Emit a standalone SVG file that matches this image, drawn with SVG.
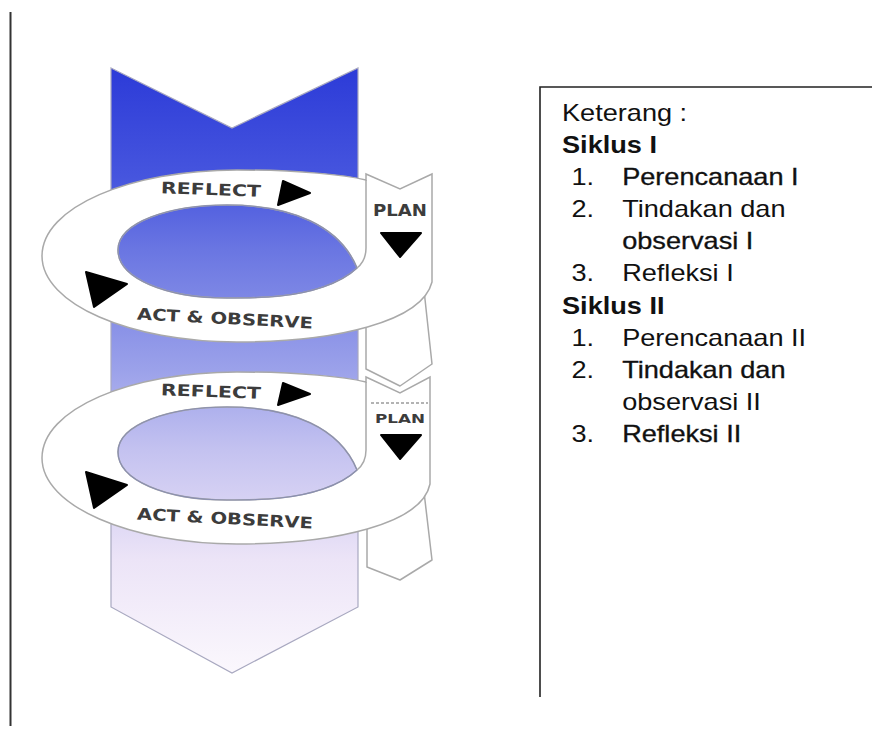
<svg xmlns="http://www.w3.org/2000/svg" width="891" height="731" viewBox="0 0 891 731">
  <defs>
    <linearGradient id="colGrad" gradientUnits="userSpaceOnUse" x1="0" y1="68" x2="0" y2="675">
      <stop offset="0" stop-color="#2c3bd8"/>
      <stop offset="0.18" stop-color="#4655de"/>
      <stop offset="0.30" stop-color="#6a76e2"/>
      <stop offset="0.50" stop-color="#9ca2ea"/>
      <stop offset="0.63" stop-color="#c4c2f0"/>
      <stop offset="0.81" stop-color="#ece4f7"/>
      <stop offset="1" stop-color="#fbf8fd"/>
    </linearGradient>
    <style>
      .band { fill: #ffffff; stroke: #a9a9a9; stroke-width: 1.5; fill-rule: evenodd; }
      .tab { fill: #ffffff; stroke: #a9a9a9; stroke-width: 1.5; stroke-linejoin: round; }
      .edge { fill: none; stroke: #a9a9a9; stroke-width: 1.5; }
      .hole { fill: none; stroke: #8a8fb0; stroke-width: 1.2; }
      .tri { fill: #000000; stroke: #000000; stroke-width: 2; stroke-linejoin: round; }
      .lbl { font-family: "DejaVu Sans", sans-serif; font-weight: bold; fill: #3c3c3c; }
      .note { font-family: "Liberation Sans", Arial, sans-serif; font-size: 23px; fill: #111111; }
      .b { font-weight: bold; }
      .heavy { stroke: #111111; stroke-width: 0.3; }
    </style>
  </defs>

  <rect width="891" height="731" fill="#ffffff"/>

  <!-- page margin rule -->
  <line x1="10.5" y1="12" x2="10.5" y2="726" stroke="#333333" stroke-width="2"/>

  <!-- central downward arrow -->
  <g id="column">
    <polygon points="111,68 232,128 358,68 358,607 232,673 111,607" fill="url(#colGrad)" stroke="#a8a8c0" stroke-width="1.2"/>
  </g>

  <!-- cycle I -->
  <g id="cycle1">
    <!-- revised-plan tab below the ring -->
    <polygon class="tab" points="366,290 424,290 432,364 400,386 366,369"/>
    <!-- ring band with PLAN tab, hole shows the column -->
    <path class="band" d="M 366 174 L 400 189 L 432 174 L 432 282 C 422 322 335 342 237 342 C 130 342 42 304 42 256 C 42 207 130 170 237 170 C 300 170 345 175 366 180 Z
      M 118 250 C 118 222 170 205 227 205 C 292 205 340 226 357 268 C 340 284 310 293 280 296 C 262 298 245 298 227 298 C 165 298 118 278 118 250 Z"/>
    <path class="hole" d="M 357 268 C 340 284 310 293 280 296 C 262 298 245 298 227 298 C 165 298 118 278 118 250 C 118 222 170 205 227 205 C 292 205 340 226 357 268"/>
    <path class="edge" d="M 366 180 L 366 248 C 366 258 362 264 357 268"/>
    <text class="lbl" x="161" y="195" font-size="16" textLength="100" lengthAdjust="spacingAndGlyphs" transform="rotate(2 211 189)">REFLECT</text>
    <text class="lbl" x="137" y="324" font-size="16" textLength="176" lengthAdjust="spacingAndGlyphs" transform="rotate(3 225 318)">ACT &amp; OBSERVE</text>
    <text class="lbl" x="373" y="216" font-size="15" textLength="54" lengthAdjust="spacingAndGlyphs">PLAN</text>
    <polygon class="tri" points="283,181 310,193 278,205"/>
    <polygon class="tri" points="86,272 127,284 94,307"/>
    <polygon class="tri" points="381,233 421,233 400,257"/>
  </g>

  <!-- cycle II -->
  <g id="cycle2" transform="translate(0,202)">
    <polygon class="tab" points="367,290 424,290 432,358 400,378 367,365"/>
    <path class="band" d="M 366 175 L 400 191 L 430 175 L 430 282 C 422 322 335 342 237 342 C 130 342 42 304 42 256 C 42 207 130 170 237 170 C 300 170 345 175 366 180 Z
      M 118 250 C 118 222 170 205 227 205 C 292 205 340 226 357 268 C 340 284 310 293 280 296 C 262 298 245 298 227 298 C 165 298 118 278 118 250 Z"/>
    <path class="hole" d="M 357 268 C 340 284 310 293 280 296 C 262 298 245 298 227 298 C 165 298 118 278 118 250 C 118 222 170 205 227 205 C 292 205 340 226 357 268"/>
    <path class="edge" d="M 366 180 L 366 248 C 366 258 362 264 357 268"/>
    <line x1="371" y1="201" x2="428" y2="201" stroke="#9a9a9a" stroke-width="1.5" stroke-dasharray="3 2"/>
    <text class="lbl" x="375" y="221" font-size="13" textLength="50" lengthAdjust="spacingAndGlyphs">PLAN</text>
    <polygon class="tri" points="283,181 310,192 278,203"/>
    <polygon class="tri" points="86,270 127,283 94,306"/>
    <polygon class="tri" points="381,233 421,233 400,257"/>
    <text class="lbl" x="161" y="195" font-size="16" textLength="100" lengthAdjust="spacingAndGlyphs" transform="rotate(2 211 189)">REFLECT</text>
    <text class="lbl" x="137" y="322" font-size="16" textLength="176" lengthAdjust="spacingAndGlyphs" transform="rotate(3 225 316)">ACT &amp; OBSERVE</text>
  </g>

  <!-- legend box -->
  <g id="legend">
    <path d="M 540 697 L 540 87 L 872 87" fill="none" stroke="#222222" stroke-width="1.6"/>
    <g transform="translate(562,0) scale(1.18,1)">
      <text class="note" x="0" y="121.5">Keterang :</text>
      <text class="note b" x="0" y="153.5">Siklus I</text>
      <text class="note" x="8" y="185.5">1.</text>
      <text class="note heavy" x="51" y="185.5">Perencanaan I</text>
      <text class="note" x="8" y="217.5">2.</text>
      <text class="note" x="51" y="217.5">Tindakan dan</text>
      <text class="note heavy" x="51" y="249.5">observasi I</text>
      <text class="note" x="8" y="281.5">3.</text>
      <text class="note" x="51" y="281.5">Refleksi I</text>
      <text class="note b" x="0" y="314">Siklus II</text>
      <text class="note" x="8" y="346">1.</text>
      <text class="note" x="51" y="346">Perencanaan II</text>
      <text class="note" x="8" y="378">2.</text>
      <text class="note heavy" x="51" y="378">Tindakan dan</text>
      <text class="note" x="51" y="410">observasi II</text>
      <text class="note" x="8" y="442">3.</text>
      <text class="note heavy" x="51" y="442">Refleksi II</text>
    </g>
  </g>
</svg>
